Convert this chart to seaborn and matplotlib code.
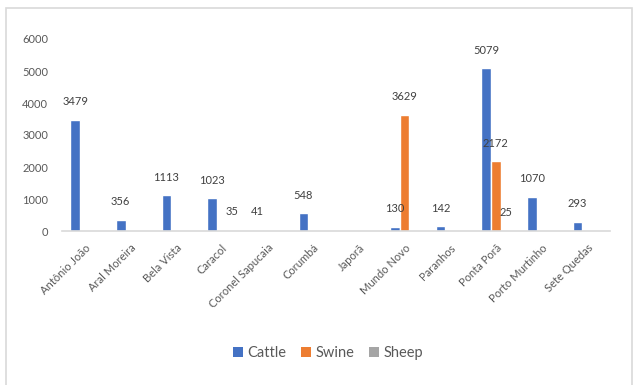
import matplotlib
matplotlib.use("Agg")
import matplotlib.pyplot as plt
from matplotlib.patches import Rectangle, Patch
import seaborn as sns
import pandas as pd

# Herd counts per municipality
municipalities = ["Antônio João", "Aral Moreira", "Bela Vista", "Caracol",
                  "Coronel Sapucaia", "Corumbá", "Japorã", "Mundo Novo",
                  "Paranhos", "Ponta Porã", "Porto Murtinho", "Sete Quedas"]
cattle = [3479, 356, 1113, 1023, 41, 548, 0, 130, 142, 5079, 1070, 293]
swine = [0, 0, 0, 0, 0, 0, 0, 3629, 0, 2172, 0, 0]
sheep = [0, 0, 0, 35, 0, 0, 0, 0, 0, 25, 0, 0]
species = ["Cattle", "Swine", "Sheep"]
colors = ["#4472C4", "#ED7D31", "#A5A5A5"]

rows = []
for name, vals in zip(species, [cattle, swine, sheep]):
    for m, v in zip(municipalities, vals):
        rows.append({"Municipality": m, "Species": name, "Heads": v})
df = pd.DataFrame(rows)

sns.set_theme(style="white")
plt.rcParams["font.family"] = ["Lato", "DejaVu Sans"]

W, H = 635, 385
fig = plt.figure(figsize=(W / 100, H / 100), dpi=100)
fig.patch.set_facecolor("white")

# Outer chart frame (bottom edge runs off the canvas)
fig.patches.append(Rectangle((6 / W, -0.05), 626 / W, 1.05 - 8 / H, transform=fig.transFigure,
                             fill=False, edgecolor="#d9d9d9", linewidth=1.2))

ax = fig.add_axes([62 / W, 1 - 231 / H, 548 / W, 192 / H])
sns.barplot(data=df, x="Municipality", y="Heads", hue="Species",
            palette=colors, width=0.64, saturation=1, ax=ax, legend=False,
            errorbar=None)

ax.set_ylim(0, 6000)
ax.set_yticks(range(0, 6001, 1000))
ax.set_xlim(-0.5, len(municipalities) - 0.5)
ax.set_xlabel("")
ax.set_ylabel("")
for s in ["top", "right", "left"]:
    ax.spines[s].set_visible(False)
ax.spines["bottom"].set_color("#d9d9d9")
ax.spines["bottom"].set_linewidth(1.2)
ax.tick_params(axis="y", length=0, pad=10, labelsize=8, labelcolor="#595959")
ax.tick_params(axis="x", length=0, pad=8, labelsize=8, labelcolor="#595959")
plt.setp(ax.get_xticklabels(), rotation=45, ha="right", rotation_mode="anchor")

# Value labels for non-zero bars
for cont in ax.containers:
    labels = [f"{int(b.get_height())}" if b.get_height() > 0 else "" for b in cont]
    ax.bar_label(cont, labels=labels, padding=9, fontsize=8, color="#404040")

handles = [Patch(facecolor=c, edgecolor="none") for c in colors]
fig.legend(handles, species, loc="center", bbox_to_anchor=(328 / W, 1 - 353 / H),
           ncol=3, frameon=False, fontsize=10.5, handlelength=0.7, handleheight=0.7,
           handletextpad=0.3, columnspacing=1.0, labelcolor="#595959")

fig.savefig("out.png", dpi=100, facecolor="white")
